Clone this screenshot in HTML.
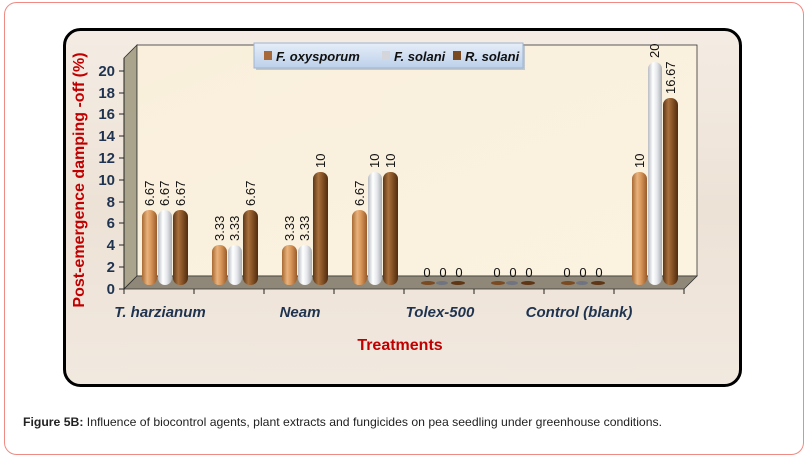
<!DOCTYPE html>
<html><head><meta charset="utf-8"><style>
html,body{margin:0;padding:0;background:#fff;}
body{width:811px;height:461px;position:relative;overflow:hidden;font-family:"Liberation Sans",sans-serif;}
</style></head><body>
<svg width="811" height="461" viewBox="0 0 811 461" xmlns="http://www.w3.org/2000/svg">
<defs>
<linearGradient id="frameBg" x1="0" y1="0" x2="0" y2="1">
<stop offset="0" stop-color="#f4ece4"/><stop offset="0.5" stop-color="#ede2d6"/><stop offset="1" stop-color="#f1e8df"/></linearGradient>
<linearGradient id="wall" x1="0" y1="0" x2="1" y2="1">
<stop offset="0" stop-color="#f9efdc"/><stop offset="1" stop-color="#fbf2e0"/></linearGradient>
<linearGradient id="wA" x1="0" x2="1">
<stop offset="0" stop-color="#a86a34"/><stop offset="0.35" stop-color="#e8b27c"/><stop offset="0.6" stop-color="#d9965a"/><stop offset="1" stop-color="#9a5c2a"/></linearGradient>
<linearGradient id="wB" x1="0" x2="1">
<stop offset="0" stop-color="#b9bcc2"/><stop offset="0.35" stop-color="#ffffff"/><stop offset="0.65" stop-color="#e4e6ea"/><stop offset="1" stop-color="#a9acb2"/></linearGradient>
<linearGradient id="wC" x1="0" x2="1">
<stop offset="0" stop-color="#5e3616"/><stop offset="0.35" stop-color="#a8713e"/><stop offset="0.6" stop-color="#8a5528"/><stop offset="1" stop-color="#4f2c10"/></linearGradient>
<linearGradient id="leg" x1="0" y1="0" x2="0" y2="1">
<stop offset="0" stop-color="#e6eef8"/><stop offset="1" stop-color="#bcd0ea"/></linearGradient>
</defs>
<rect x="4.5" y="2.5" width="799" height="452" rx="12" fill="#fff" stroke="#ef8a84" stroke-width="1"/>
<rect x="64.5" y="29.5" width="676" height="356" rx="16" fill="url(#frameBg)" stroke="#000" stroke-width="3"/>
<polygon points="124,58 137,45 137,276 124,289" fill="#aaa48c" stroke="#333" stroke-width="0.8"/>
<rect x="137" y="45" width="560" height="231" fill="url(#wall)" stroke="#333" stroke-width="0.8"/>
<polygon points="137,276 697,276 684,289 124,289" fill="#8f8878" stroke="#333" stroke-width="0.8"/>
<line x1="124" y1="58" x2="124" y2="289" stroke="#222" stroke-width="1"/>
<g stroke="#222" stroke-width="1">
<line x1="119" y1="289" x2="124" y2="289"/><line x1="119" y1="267" x2="124" y2="267"/><line x1="119" y1="245" x2="124" y2="245"/><line x1="119" y1="223" x2="124" y2="223"/><line x1="119" y1="202" x2="124" y2="202"/><line x1="119" y1="180" x2="124" y2="180"/><line x1="119" y1="158" x2="124" y2="158"/><line x1="119" y1="136" x2="124" y2="136"/><line x1="119" y1="114" x2="124" y2="114"/><line x1="119" y1="93" x2="124" y2="93"/><line x1="119" y1="71" x2="124" y2="71"/>
<line x1="124" y1="289" x2="124" y2="294"/><line x1="194" y1="289" x2="194" y2="294"/><line x1="264" y1="289" x2="264" y2="294"/><line x1="334" y1="289" x2="334" y2="294"/><line x1="404" y1="289" x2="404" y2="294"/><line x1="474" y1="289" x2="474" y2="294"/><line x1="544" y1="289" x2="544" y2="294"/><line x1="614" y1="289" x2="614" y2="294"/><line x1="684" y1="289" x2="684" y2="294"/>
</g>
<g font-weight="bold" font-size="15" fill="#1f3350" text-anchor="end" font-family="Liberation Sans,sans-serif">
<text x="115" y="294">0</text><text x="115" y="272">2</text><text x="115" y="250">4</text><text x="115" y="228">6</text><text x="115" y="207">8</text><text x="115" y="185">10</text><text x="115" y="163">12</text><text x="115" y="141">14</text><text x="115" y="119">16</text><text x="115" y="98">18</text><text x="115" y="76">20</text>
</g>
<g stroke="none">
<rect x="142" y="210" width="15" height="75" rx="7" fill="url(#wA)"/>
<rect x="158" y="210" width="14" height="75" rx="7" fill="url(#wB)"/>
<rect x="173" y="210" width="15" height="75" rx="7" fill="url(#wC)"/>
<rect x="212" y="245" width="15" height="40" rx="7" fill="url(#wA)"/>
<rect x="228" y="245" width="14" height="40" rx="7" fill="url(#wB)"/>
<rect x="243" y="210" width="15" height="75" rx="7" fill="url(#wC)"/>
<rect x="282" y="245" width="15" height="40" rx="7" fill="url(#wA)"/>
<rect x="298" y="245" width="14" height="40" rx="7" fill="url(#wB)"/>
<rect x="313" y="172" width="15" height="113" rx="7" fill="url(#wC)"/>
<rect x="352" y="210" width="15" height="75" rx="7" fill="url(#wA)"/>
<rect x="368" y="172" width="14" height="113" rx="7" fill="url(#wB)"/>
<rect x="383" y="172" width="15" height="113" rx="7" fill="url(#wC)"/>
<rect x="632" y="172" width="15" height="113" rx="7" fill="url(#wA)"/>
<rect x="648" y="62" width="14" height="223" rx="7" fill="url(#wB)"/>
<rect x="663" y="98" width="15" height="187" rx="7" fill="url(#wC)"/>
</g>
<g>
<ellipse cx="428" cy="283" rx="7" ry="2" fill="#7a4a22"/><ellipse cx="442" cy="283" rx="6" ry="2" fill="#6f7480"/><ellipse cx="458" cy="283" rx="7" ry="2" fill="#5e3616"/>
<ellipse cx="498" cy="283" rx="7" ry="2" fill="#7a4a22"/><ellipse cx="512" cy="283" rx="6" ry="2" fill="#6f7480"/><ellipse cx="528" cy="283" rx="7" ry="2" fill="#5e3616"/>
<ellipse cx="568" cy="283" rx="7" ry="2" fill="#7a4a22"/><ellipse cx="582" cy="283" rx="6" ry="2" fill="#6f7480"/><ellipse cx="598" cy="283" rx="7" ry="2" fill="#5e3616"/>
</g>
<g font-size="13" fill="#111" font-family="Liberation Sans,sans-serif">
<text transform="translate(154,206) rotate(-90)">6.67</text>
<text transform="translate(169,206) rotate(-90)">6.67</text>
<text transform="translate(185,206) rotate(-90)">6.67</text>
<text transform="translate(224,241) rotate(-90)">3.33</text>
<text transform="translate(239,241) rotate(-90)">3.33</text>
<text transform="translate(255,206) rotate(-90)">6.67</text>
<text transform="translate(294,241) rotate(-90)">3.33</text>
<text transform="translate(309,241) rotate(-90)">3.33</text>
<text transform="translate(325,168) rotate(-90)">10</text>
<text transform="translate(364,206) rotate(-90)">6.67</text>
<text transform="translate(379,168) rotate(-90)">10</text>
<text transform="translate(395,168) rotate(-90)">10</text>
<text transform="translate(644,168) rotate(-90)">10</text>
<text transform="translate(659,58) rotate(-90)">20</text>
<text transform="translate(675,94) rotate(-90)">16.67</text>
</g>
<g font-size="13" fill="#111" text-anchor="middle" font-family="Liberation Sans,sans-serif">
<text x="427" y="277">0</text><text x="443" y="277">0</text><text x="459" y="277">0</text>
<text x="497" y="277">0</text><text x="513" y="277">0</text><text x="529" y="277">0</text>
<text x="567" y="277">0</text><text x="583" y="277">0</text><text x="599" y="277">0</text>
</g>
<g font-size="15" font-weight="bold" font-style="italic" fill="#1f3350" text-anchor="middle" font-family="Liberation Sans,sans-serif">
<text x="160" y="317">T. harzianum</text><text x="300" y="317">Neam</text><text x="440" y="317">Tolex-500</text><text x="579" y="317">Control (blank)</text>
</g>
<text x="400" y="350" text-anchor="middle" font-size="16" font-weight="bold" fill="#c00000" font-family="Liberation Sans,sans-serif">Treatments</text>
<text transform="translate(84,180) rotate(-90)" text-anchor="middle" font-size="16" font-weight="bold" fill="#c00000" font-family="Liberation Sans,sans-serif">Post-emergence damping -off (%)</text>
<rect x="256" y="45" width="269" height="25" fill="#8aa0bc" opacity="0.5"/>
<rect x="254" y="43" width="269" height="25" fill="url(#leg)" stroke="#9fb4d0" stroke-width="1"/>
<rect x="264" y="51" width="8" height="9" fill="#a8693a"/>
<rect x="382" y="51" width="8" height="9" fill="#d4d6dc"/>
<rect x="453" y="51" width="8" height="9" fill="#7a4a22"/>
<g font-size="13" font-weight="bold" font-style="italic" fill="#111" font-family="Liberation Sans,sans-serif">
<text x="276" y="61">F. oxysporum</text><text x="394" y="61">F. solani</text><text x="465" y="61">R. solani</text>
</g>
<text x="23" y="426" font-size="12" fill="#222" textLength="639" lengthAdjust="spacingAndGlyphs" font-family="Liberation Sans,sans-serif"><tspan font-weight="bold">Figure 5B:</tspan> Influence of biocontrol agents, plant extracts and fungicides on pea seedling under greenhouse conditions.</text>
</svg>
</body></html>
